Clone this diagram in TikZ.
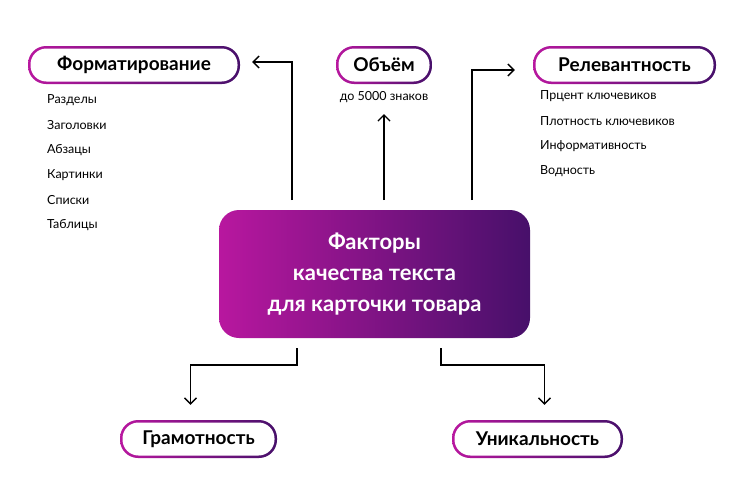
\documentclass[tikz,border=0pt]{standalone}
\usepackage{fontspec}
\setmainfont{Lato}
\usetikzlibrary{calc,arrows.meta}
\definecolor{magentaA}{HTML}{B8179F}
\definecolor{purpleB}{HTML}{47106A}
\tikzset{
  pill/.style={rounded corners=18pt,minimum height=38pt,inner xsep=12pt,
    left color=magentaA,right color=purpleB,font=\fontsize{19}{22}\selectfont\bfseries,
    path picture={\fill[white,rounded corners=16pt]
      ($(path picture bounding box.south west)+(2.5pt,2.5pt)$) rectangle
      ($(path picture bounding box.north east)+(-2.5pt,-2.5pt)$);}},
  item/.style={anchor=west,font=\fontsize{12.5}{14}\selectfont,inner sep=0pt},
  link/.style={line width=1.3pt,-{Straight Barb[length=6pt,width=12pt]}}
}
\begin{document}
\begin{tikzpicture}[x=1pt,y=-1pt]
\useasboundingbox (0,0) rectangle (750,493);
% central box
\node[rounded corners=20pt,left color=magentaA,right color=purpleB,minimum width=311pt,
  minimum height=128pt,text=white,align=center,font=\fontsize{22}{31}\selectfont\bfseries]
  (main) at (374.5,274) {Факторы\\качества текста\\для карточки товара};
% pills
\node[pill,minimum width=212pt] (fmt) at (134,65) {Форматирование};
\node[pill,minimum width=96pt] (vol) at (384,65) {Объём};
\node[pill,minimum width=183pt] (rel) at (624.5,65) {Релевантность};
\node[pill,minimum width=157pt] (gram) at (198.5,439) {Грамотность};
\node[pill,minimum width=171pt] (uniq) at (537.5,439) {Уникальность};
\node[font=\fontsize{12.5}{14}\selectfont] (volnote) at (384,97) {до 5000 знаков};
% lists
\foreach \t [count=\i] in {Разделы,Заголовки,Абзацы,Картинки,Списки,Таблицы}
  \node[item] (f\i) at (47,{75+25*\i}) {\t};
\foreach \t [count=\i] in {Прцент ключевиков,Плотность ключевиков,Информативность,Водность}
  \node[item] (r\i) at (540,{71+25*\i}) {\t};
% arrows
\coordinate (s1) at (292,200); \coordinate (s2) at (384,200); \coordinate (s3) at (472,200);
\coordinate (s4) at (297,348); \coordinate (s5) at (441,348);
\draw[link] (s1) |- ($(fmt.east)+(12,-3)$);
\draw[link] (s2) -- ($(volnote.south)+(0,8)$);
\draw[link] (s3) |- ($(rel.west)+(-18,5)$);
\draw[link] (s4) -- (297,365) -| ($(gram.north)+(-8,-15)$);
\draw[link] (s5) -- (441,365) -| ($(uniq.north)+(7,-15)$);
\end{tikzpicture}
\end{document}
